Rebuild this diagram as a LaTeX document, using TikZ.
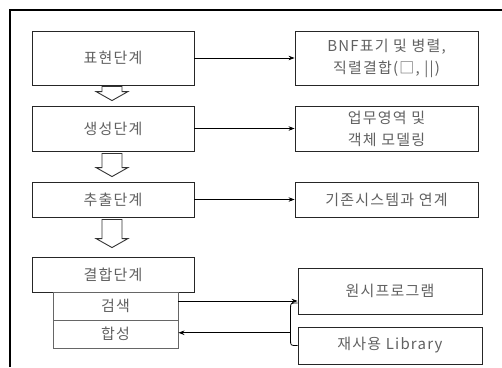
\documentclass[tikz,border=0pt]{standalone}
\usepackage{fontspec}
\setmainfont[LetterSpace=8]{Noto Sans CJK KR}
\usetikzlibrary{arrows.meta,calc}

\tikzset{
  stagebox/.style={draw=black!85,line width=0.9pt,minimum width=162pt,inner sep=0pt,
    text=black!62,font=\fontsize{15}{22}\selectfont,align=center},
  subbox/.style={stagebox,draw=black!60,minimum width=125pt},
  taskbox/.style={stagebox,minimum width=183pt},
  link/.style={line width=0.7pt,-{Stealth[length=6pt,width=4.5pt]}},
  hollow/.style={draw=black!80,line width=0.9pt,fill=white,line join=miter}
}

\begin{document}
\begin{tikzpicture}[x=1pt,y=-1pt]
  \newcommand\hollowarrow[2]{\draw[hollow] let \p1=(#1), \p2=(#2) in
    (\x1-10pt,\y1) -- (\x1-10pt,\y2+9pt) -- (\x1-16pt,\y2+9pt) -- (\x1,\y2)
    -- (\x1+16pt,\y2+9pt) -- (\x1+10pt,\y2+9pt) -- (\x1+10pt,\y1) -- cycle;}
  \useasboundingbox (0,0) rectangle (502,367);

% frame
  \draw[line width=2.6pt] (10,367) -- (10,10) -- (502,10);

% stages
  \node[stagebox,minimum height=54pt] (p1) at (113,58) {표현단계};
  \node[stagebox,minimum height=45pt] (p2) at (113,128.5) {생성단계};
  \node[stagebox,minimum height=35pt] (p3) at (113,199.5) {추출단계};
  \node[stagebox,minimum height=35pt] (p4) at (113,274.5) {결합단계};
  \node[subbox,minimum height=28pt] (s1) at (115.5,306) {검색};
  \node[subbox,minimum height=28pt] (s2) at (115.5,334) {합성};

% tasks
  \node[taskbox,minimum height=54pt] (r1) at (386.5,58) {BNF표기 및 병렬,\\직렬결합(□, ||)};
  \node[taskbox,minimum height=45pt] (r2) at (386.5,128.5) {업무영역 및\\객체 모델링};
  \node[taskbox,minimum height=35pt] (r3) at (386.5,199.5) {기존시스템과 연계};
  \node[taskbox,minimum width=184pt,minimum height=46pt] (q1) at (390,291) {원시프로그램};
  \node[taskbox,minimum width=184pt,minimum height=37pt] (q2) at (390,345.5) {재사용 Library};

% flow between stages
  \hollowarrow{$(p1.south)+(-1,1)$}{$(p2.north)+(-1,-5)$}
  \hollowarrow{$(p2.south)+(-1,2)$}{$(p3.north)+(-1,-5)$}
  \hollowarrow{$(p3.south)+(-1,2)$}{$(p4.north)+(-1,-9)$}

% stage to task
  \draw[link] (p1.east) -- (r1.west);
  \draw[link] (p2.east) -- (r2.west);
  \draw[link] (p3.east) -- (r3.west);

% search and compose
  \coordinate (sq) at ($(s1.east)+(0,-5)$);
  \draw[link] (sq) -- (sq -| q1.west);
  \coordinate (bt) at ($(q1.west)+(0,12)$);
  \coordinate (bb) at (q2.west);
  \coordinate (jn) at ($(bt)!0.7!(bb)+(-7,0)$);
  \draw[line width=0.8pt] (bt) .. controls +(-7,0) .. ($(bt)+(-7,5)$)
    -- ($(bb)+(-7,-5)$) .. controls +(0,5) .. (bb);
  \draw[link] (jn) -- (jn -| s2.east);
\end{tikzpicture}
\end{document}
